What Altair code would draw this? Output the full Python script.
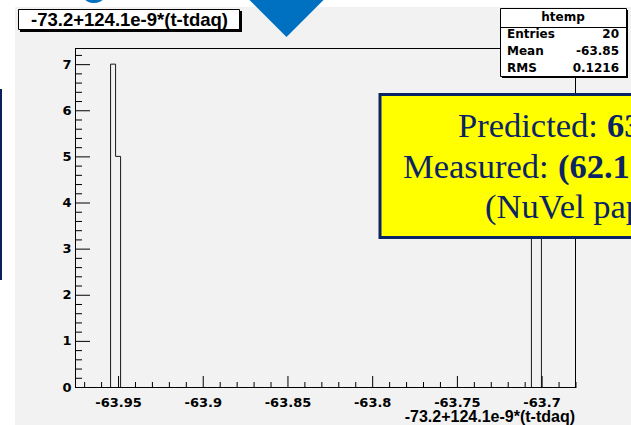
import altair as alt
import pandas as pd

# ---- histogram "htemp": -73.2+124.1e-9*(t-tdaq) ----
x_lo, x_hi = -63.9754, -63.6797
n_bins = 100
y_top = 7.35

bin_index = [7, 8, 91, 92]
bin_count = [7, 5, 4, 4]

x_major = [-63.95, -63.9, -63.85, -63.8, -63.75, -63.7]
x_minor = [-63.97, -63.96, -63.94, -63.93, -63.92, -63.91, -63.89, -63.88,
           -63.87, -63.86, -63.84, -63.83, -63.82, -63.81, -63.79, -63.78,
           -63.77, -63.76, -63.74, -63.73, -63.72, -63.71, -63.69, -63.68]
y_major = [0, 1, 2, 3, 4, 5, 6, 7]
y_minor = [round(0.2 * i, 1) for i in range(1, 37) if i % 5 != 0]

var_title = "-73.2+124.1e-9*(t-tdaq)"
stats_name = "htemp"
stats_labels = ["Entries", "Mean", "RMS"]
stats_values = ["20", "-63.85", "0.1216"]
stats_rows_y = [34, 50.5, 67.5]

# plot-area geometry (pixels)
W, H = 501, 339
PL, PT = 75, 48


def px(v):
    return alt.value(v - PL)


def py(v):
    return alt.value(v - PT)


one = pd.DataFrame({"a": [0]})

# step outline of the filled bins
bw = (x_hi - x_lo) / n_bins
pts = []
g = 0
for i, (k, c) in enumerate(zip(bin_index, bin_count)):
    lo = x_lo + k * bw
    hi = lo + bw
    if i == 0 or k != bin_index[i - 1] + 1:
        if i > 0:
            g += 1
        pts.append((lo, 0, g))
    pts.append((lo, c, g))
    pts.append((hi, c, g))
    if i == len(bin_index) - 1 or bin_index[i + 1] != k + 1:
        pts.append((hi, 0, g))
outline = pd.DataFrame(pts, columns=["x", "y", "g"])
outline["o"] = range(len(outline))

xs = alt.Scale(domain=[x_lo, x_hi], nice=False, zero=False)
ys = alt.Scale(domain=[0, y_top], nice=False, zero=False)

lab = dict(labelFont="DejaVu Sans", labelFontWeight="bold", labelFontSize=13,
           labelColor="black", ticks=False, grid=False, domain=True,
           domainColor="black", domainWidth=1, title=None, labelOverlap=False)

x_axis = alt.Axis(values=x_major, labelPadding=9, labelFlush=False,
                  labelExpr="datum.value < 0 ? '-' + format(-datum.value, '.2~f') : format(datum.value, '.2~f')",
                  **lab)
y_axis = alt.Axis(values=y_major, labelPadding=4, format="d", **lab)

# page pieces outside the canvas panel
white_top = alt.Chart(one).mark_rect(color="white").encode(
    x=px(0), x2=px(631), y=py(0), y2=py(7))
white_left = alt.Chart(one).mark_rect(color="white").encode(
    x=px(0), x2=px(15), y=py(0), y2=py(425))
arrow = alt.Chart(one).mark_point(
    shape="M-1,-0.5 L1,-0.5 L0,0.5 Z", size=5929, filled=True,
    color="#0070c0", opacity=1, strokeWidth=0).encode(x=px(286.5), y=py(17.75))
logo_arc = alt.Chart(one).mark_arc(
    theta=2.2, theta2=4.1, radius=14, radius2=11, color="#0070c0").encode(
    x=px(94), y=py(-11))
side_bar = alt.Chart(one).mark_rect(color="#0a1f5c").encode(
    x=px(0), x2=px(2), y=py(89), y2=py(280))

# title box
title_shadow = alt.Chart(one).mark_rect(color="black").encode(
    x=px(20), x2=px(242), y=py(11), y2=py(32))
title_box = alt.Chart(one).mark_rect(fill="white", stroke="black", strokeWidth=1).encode(
    x=px(18.5), x2=px(239.5), y=py(9.5), y2=py(29.5))
title_txt = alt.Chart(one).mark_text(
    text=var_title, font="Liberation Sans", fontWeight="bold", fontSize=18.5,
    align="center", baseline="middle", color="black").encode(x=px(129.5), y=py(20))

# frame top/right
frame_top = alt.Chart(one).mark_rule(color="black", strokeWidth=1).encode(
    x=alt.value(0), x2=alt.value(W), y=alt.value(0.5))
frame_right = alt.Chart(one).mark_rule(color="black", strokeWidth=1).encode(
    x=alt.value(W - 0.5), y=alt.value(0), y2=alt.value(H))

# histogram outline carries both axes
hist = alt.Chart(outline).mark_line(color="#1a1a1a", strokeWidth=1, xOffset=0.5).encode(
    x=alt.X("x:Q", scale=xs, axis=x_axis),
    y=alt.Y("y:Q", scale=ys, axis=y_axis),
    detail="g:N",
    order="o:Q")

# inward ticks, placed through the same scales
xt_major = alt.Chart(pd.DataFrame({"x": x_major})).mark_rule(
    color="black", xOffset=0.5).encode(
    x=alt.X("x:Q", scale=xs, axis=x_axis), y=alt.value(H), y2=alt.value(H - 11))
xt_minor = alt.Chart(pd.DataFrame({"x": x_minor})).mark_rule(
    color="black", xOffset=0.5).encode(
    x=alt.X("x:Q", scale=xs, axis=x_axis), y=alt.value(H), y2=alt.value(H - 5))
yt_major = alt.Chart(pd.DataFrame({"y": y_major})).mark_rule(
    color="black", yOffset=0.5).encode(
    y=alt.Y("y:Q", scale=ys, axis=y_axis), x=alt.value(0), x2=alt.value(15))
yt_minor = alt.Chart(pd.DataFrame({"y": y_minor})).mark_rule(
    color="black", yOffset=0.5).encode(
    y=alt.Y("y:Q", scale=ys, axis=y_axis), x=alt.value(0), x2=alt.value(7))

x_title = alt.Chart(one).mark_text(
    text=var_title, font="Liberation Sans", fontWeight="bold", fontSize=16,
    align="right", baseline="alphabetic", color="black").encode(x=px(575), y=py(422))

# statistics box
stats_shadow = alt.Chart(one).mark_rect(color="black").encode(
    x=px(502), x2=px(628), y=py(10), y2=py(78))
stats_box = alt.Chart(one).mark_rect(fill="white", stroke="black", strokeWidth=1).encode(
    x=px(500.5), x2=px(626.5), y=py(8.5), y2=py(76.5))
stats_sep = alt.Chart(one).mark_rule(color="black").encode(
    x=px(500.5), x2=px(626.5), y=py(27.5))
sfont = dict(font="DejaVu Sans", fontWeight="bold", fontSize=12, color="black",
             baseline="middle")
stats_layers = [alt.Chart(one).mark_text(text=stats_name, align="center", **sfont).encode(
    x=px(563), y=py(17))]
for lbl, val, yy in zip(stats_labels, stats_values, stats_rows_y):
    stats_layers.append(alt.Chart(one).mark_text(text=lbl, align="left", **sfont).encode(
        x=px(507), y=py(yy)))
    stats_layers.append(alt.Chart(one).mark_text(text=val, align="right", **sfont).encode(
        x=px(619), y=py(yy)))

# yellow note box
note_box = alt.Chart(one).mark_rect(fill="#ffff00", stroke="#0b2466", strokeWidth=3).encode(
    x=px(380), x2=px(760), y=py(94.5), y2=py(237.5))
nfont = dict(font="Liberation Serif", fontSize=34.5, color="#0b2466",
             align="left", baseline="alphabetic")
n1a = alt.Chart(one).mark_text(text="Predicted: ", **nfont).encode(x=px(458), y=py(137))
n1b = alt.Chart(one).mark_text(text="63", fontWeight="bold", **nfont).encode(x=px(607), y=py(137))
n2a = alt.Chart(one).mark_text(text="Measured: ", **nfont).encode(x=px(403), y=py(178))
n2b = alt.Chart(one).mark_text(text="(62.1", fontWeight="bold", **nfont).encode(x=px(558), y=py(178))
n3 = alt.Chart(one).mark_text(text="(NuVel paper)", **nfont).encode(x=px(485), y=py(218))

chart = alt.layer(
    white_top, white_left, arrow, logo_arc, side_bar,
    title_shadow, title_box, title_txt,
    frame_top, frame_right,
    hist, xt_major, xt_minor, yt_major, yt_minor,
    x_title,
    stats_shadow, stats_box, stats_sep, *stats_layers,
    note_box, n1a, n1b, n2a, n2b, n3,
).properties(
    width=W, height=H,
    padding={"left": PL, "top": PT, "right": 631 - PL - W, "bottom": 425 - PT - H},
    autosize=alt.AutoSizeParams(type="none"),
    background="#f2f2f2",
).configure_view(stroke=None)

chart.save("out.html", embed_options={"renderer": "svg", "actions": False})
